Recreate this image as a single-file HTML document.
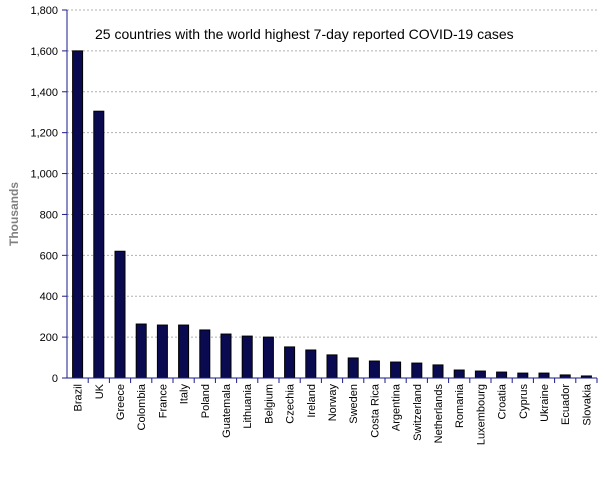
<!DOCTYPE html>
<html><head><meta charset="utf-8"><style>
html,body{margin:0;padding:0;background:#fff;}
svg{display:block;font-family:"Liberation Sans",Arial,sans-serif;}
</style></head><body>
<svg id="chart" width="605" height="480">
<text x="95" y="39" font-size="14" fill="#000">25 countries with the world highest 7-day reported COVID-19 cases</text>
<text transform="translate(18,214) rotate(-90)" text-anchor="middle" font-size="12" font-weight="bold" fill="#808080">Thousands</text>
<g id="grid"></g><g id="bars"></g><g id="axes"></g>
</svg>
<script>
const categories=["Brazil","UK","Greece","Colombia","France","Italy","Poland","Guatemala","Lithuania","Belgium","Czechia","Ireland","Norway","Sweden","Costa Rica","Argentina","Switzerland","Netherlands","Romania","Luxembourg","Croatia","Cyprus","Ukraine","Ecuador","Slovakia"];
const values=[1600,1305,620,264,259,259,235,215,205,200,152,137,113,98,83,78,73,64,39,34,29,24,24,15,10];
const yTicks=[0,200,400,600,800,1000,1200,1400,1600,1800];
const yTickLabels=["0","200","400","600","800","1,000","1,200","1,400","1,600","1,800"];
const NS="http://www.w3.org/2000/svg";
const x0=67,x1=597,y0=378,y1=10,yMax=1800;
const step=(x1-x0)/categories.length;
const y=v=>y0-(v/yMax)*(y0-y1);
const xc=i=>x0+step*(i+0.5);
function mk(tag,attrs,parent){const e=document.createElementNS(NS,tag);for(const k in attrs)e.setAttribute(k,attrs[k]);parent.appendChild(e);return e;}
const grid=document.getElementById('grid'),bars=document.getElementById('bars'),axes=document.getElementById('axes');
yTicks.forEach((t,i)=>{
  if(t>0){const g=mk('line',{x1:x0,x2:x1,y1:y(t),y2:y(t),stroke:'#b0b0b0','stroke-dasharray':'2,2'},grid);
  
  }
  const tk=mk('line',{x1:x0-5,x2:x0,y1:y(t),y2:y(t),stroke:'#1a1a8a'},axes);
  
  
  const tl=mk('text',{x:x0-9,y:y(t)+4,'text-anchor':'end','font-size':'11',fill:'#000'},axes);
  tl.textContent=yTickLabels[i];
  
  
});
categories.forEach((c,i)=>{
  const r=mk('rect',{x:xc(i)-5,y:y(values[i]),width:10,height:y0-y(values[i]),fill:'#0a0a50',stroke:'#000','stroke-width':1},bars);
  
  
  const tk=mk('line',{x1:x0+step*(i+1),x2:x0+step*(i+1),y1:y0,y2:y0+5,stroke:'#1a1a8a'},axes);
  
  
  const t=mk('text',{transform:`translate(${xc(i)+4},384) rotate(-90)`,'text-anchor':'end','font-size':'11',fill:'#000'},axes);
  t.textContent=c;
  
  
});
const ya=mk('line',{x1:x0,x2:x0,y1:y1,y2:y0,stroke:'#1a1a8a'},axes);


const xa=mk('line',{x1:x0,x2:x1,y1:y0,y2:y0,stroke:'#1a1a8a'},axes);


</script>
</body></html>
